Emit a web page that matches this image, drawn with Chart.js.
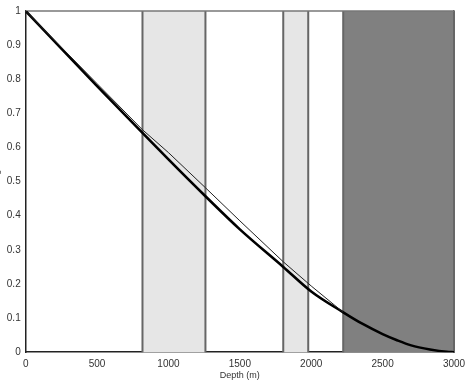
<!DOCTYPE html>
<html>
<head>
<meta charset="utf-8">
<script src="https://cdn.jsdelivr.net/npm/chart.js@4/dist/chart.umd.min.js"></script>
<style>
  html, body { margin: 0; padding: 0; background: #fff; overflow: hidden; }
  #wrap { position: absolute; left: -9px; top: 0; width: 482px; height: 382px; }
</style>
</head>
<body>
<div id="wrap"><canvas id="fillChart"></canvas></div>
<script>
// depth (m) and filling values
const thickDepth = [0, 250, 500, 818, 1000, 1259, 1500, 1804, 2000, 2224, 2364, 2500, 2601, 2700, 2832, 2950, 3000];
const thickFill  = [1, 0.89, 0.78, 0.643, 0.565, 0.457, 0.36, 0.25, 0.178, 0.117, 0.082, 0.053, 0.035, 0.02, 0.008, 0.001, 0];

const thinDepth = [0, 500, 818, 1000, 1259, 1500, 1804, 2000, 2224];
const thinFill  = [1, 0.787, 0.652, 0.585, 0.482, 0.385, 0.265, 0.194, 0.117];

// shaded depth intervals
const lightBands = [[818, 1259], [1804, 1979]];
const darkBands  = [[2224, 3000]];

const xTicks = [0, 500, 1000, 1500, 2000, 2500, 3000];

const toPoints = (xs, ys) => xs.map((x, i) => ({ x: x, y: ys[i] }));

const bandPlugin = {
    id: 'bands',
    beforeDatasetsDraw(chart) {
        const { ctx, chartArea: area, scales: { x } } = chart;
        const drawBand = (b, fill) => {
            const x0 = x.getPixelForValue(b[0]);
            const x1 = x.getPixelForValue(b[1]);
            ctx.save();
            ctx.fillStyle = fill;
            ctx.fillRect(x0, area.top, x1 - x0, area.bottom - area.top);
            ctx.strokeStyle = '#666';
            ctx.lineWidth = 2;
            ctx.beginPath();
            ctx.moveTo(x0, area.top); ctx.lineTo(x0, area.bottom);
            ctx.moveTo(x1, area.top); ctx.lineTo(x1, area.bottom);
            ctx.stroke();
            ctx.restore();
        };
        lightBands.forEach(b => drawBand(b, '#e6e6e6'));
        darkBands.forEach(b => drawBand(b, '#808080'));
        // top frame line
        ctx.save();
        ctx.strokeStyle = '#777';
        ctx.lineWidth = 1.5;
        ctx.beginPath();
        ctx.moveTo(area.left, area.top);
        ctx.lineTo(area.right, area.top);
        ctx.stroke();
        ctx.restore();
    }
};

const font = { family: "'Liberation Sans', Arial, sans-serif", size: 10 };

new Chart(document.getElementById('fillChart'), {
    type: 'line',
    data: {
        datasets: [
            {
                data: toPoints(thinDepth, thinFill),
                borderColor: '#222',
                borderWidth: 1,
                pointRadius: 0,
                tension: 0
            },
            {
                data: toPoints(thickDepth, thickFill),
                borderColor: '#000',
                borderWidth: 2.6,
                pointRadius: 0,
                cubicInterpolationMode: 'monotone'
            }
        ]
    },
    options: {
        responsive: true,
        maintainAspectRatio: false,
        animation: false,
        layout: { padding: { top: 2, right: 19, left: 0, bottom: 1 } },
        plugins: {
            legend: { display: false },
            tooltip: { enabled: false }
        },
        scales: {
            x: {
                type: 'linear',
                min: 0,
                max: 3000,
                afterBuildTicks: axis => { axis.ticks = xTicks.map(v => ({ value: v })); },
                grid: { display: false, drawTicks: false },
                border: { display: true, color: '#222', width: 1.5 },
                ticks: { color: '#333', font: font, padding: 6, maxRotation: 0, callback: v => String(v) },
                title: { display: true, text: 'Depth (m)', color: '#333', font: { family: font.family, size: 9 }, padding: { top: -6, bottom: 0 } }
            },
            y: {
                min: 0,
                max: 1,
                grid: { display: false, drawTicks: false },
                border: { display: true, color: '#222', width: 1.5 },
                ticks: { stepSize: 0.1, color: '#333', font: font, padding: 5, callback: v => String(Number(v.toFixed(1))) },
                title: { display: true, text: 'Filling', color: '#333', font: { family: font.family, size: 9 }, padding: { top: 0, bottom: 0 } }
            },
            yRight: {
                position: 'right',
                min: 0,
                max: 1,
                grid: { display: false, drawTicks: false },
                border: { display: true, color: '#444', width: 1.5 },
                ticks: { display: false }
            }
        }
    },
    plugins: [bandPlugin]
});
</script>
</body>
</html>
